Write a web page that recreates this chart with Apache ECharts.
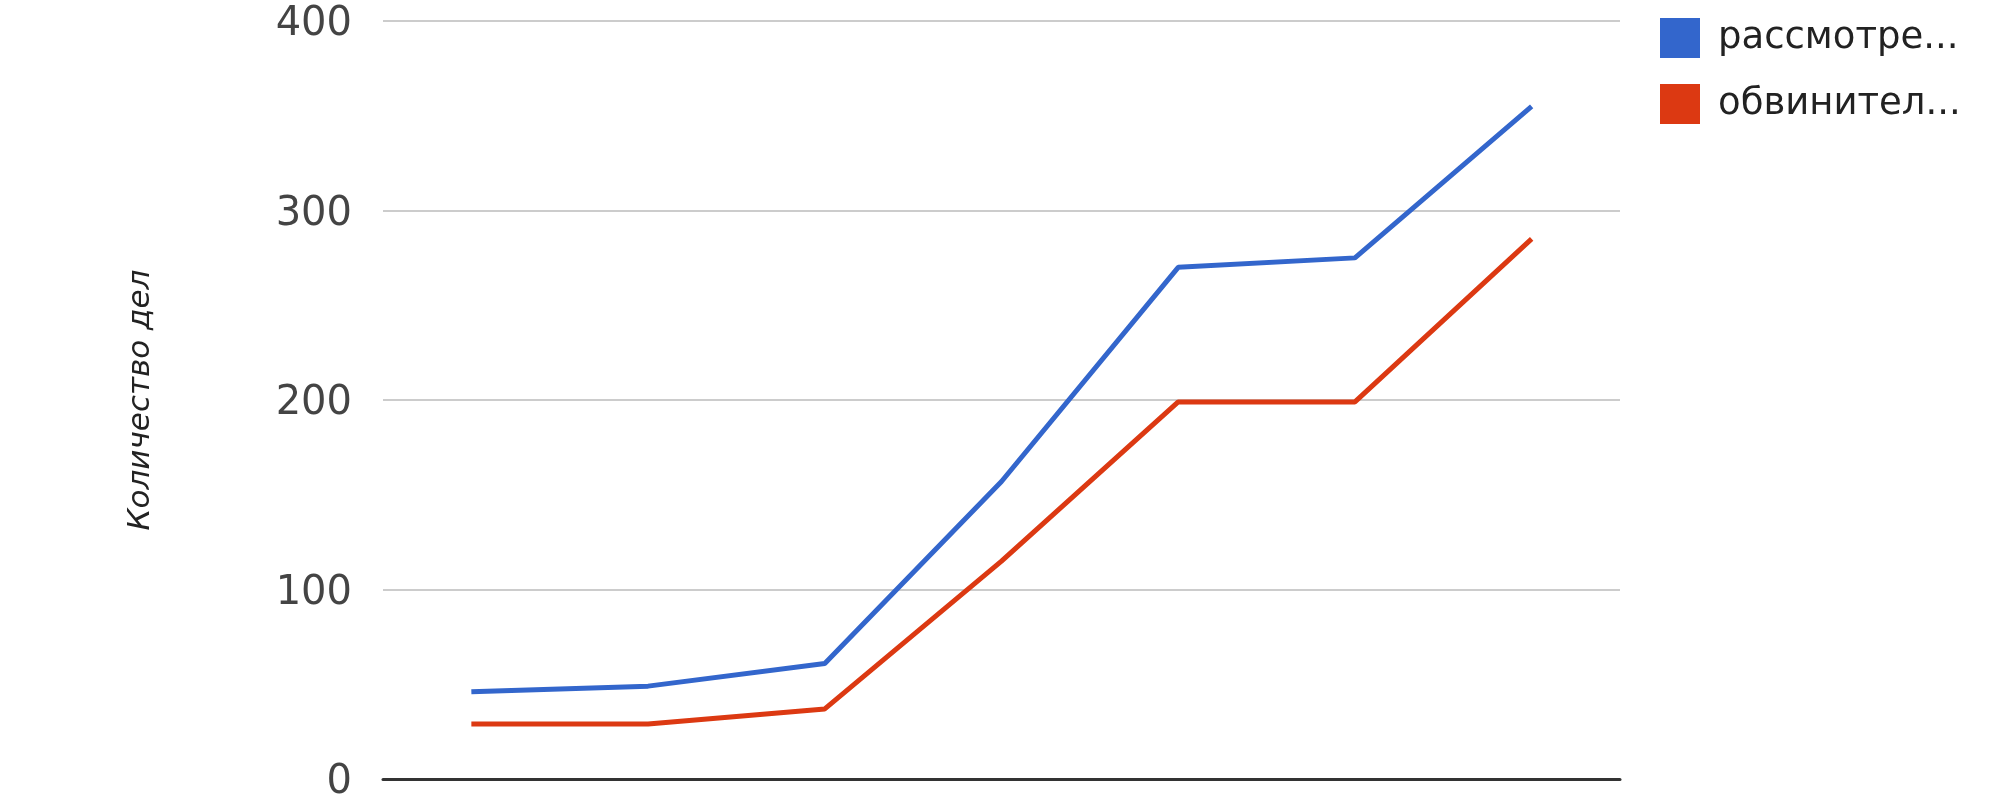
<!DOCTYPE html>
<html>
<head>
<meta charset="utf-8">
<script src="https://cdn.jsdelivr.net/npm/echarts@6/dist/echarts.min.js"></script>
<style>html,body{margin:0;padding:0;background:#fff}#c{width:2000px;height:800px}</style>
</head>
<body>
<div id="c"></div>
<script>
const categories = ['1', '2', '3', '4', '5', '6', '7'];
const seriesNames = ['рассмотре...', 'обвинител...'];
const considered = [46, 49, 61, 157, 270, 275, 355];
const convictions = [29, 29, 37, 115, 199, 199, 285];
const yTicks = [0, 100, 200, 300, 400];
const yTitle = 'Количество дел';

const chart = echarts.init(document.getElementById('c'), null, {renderer: 'canvas'});
chart.setOption({
  animation: false,
  backgroundColor: '#ffffff',
  textStyle: {fontFamily: 'DejaVu Sans'},
  grid: {left: 383, right: 380, top: 21, bottom: 21, containLabel: false, outerBoundsMode: 'none'},
  legend: {
    left: 1660, top: 18, orient: 'vertical', padding: 0,
    itemWidth: 40, itemHeight: 40, itemGap: 26,
    icon: 'rect',
    textStyle: {fontSize: 37, color: '#222222', fontFamily: 'DejaVu Sans', padding: [0, 0, 0, 13]},
    data: seriesNames
  },
  xAxis: {
    type: 'category', data: categories, boundaryGap: true,
    axisLine: {show: true, lineStyle: {color: '#333333', width: 3}},
    axisTick: {show: false}, axisLabel: {show: false}, splitLine: {show: false}
  },
  yAxis: {
    type: 'value', min: yTicks[0], max: yTicks[yTicks.length - 1], interval: 100,
    name: yTitle, nameLocation: 'middle', nameGap: 227, nameRotate: 90,
    nameTextStyle: {fontSize: 31, fontStyle: 'italic', color: '#222222', fontFamily: 'DejaVu Sans'},
    axisLine: {show: false}, axisTick: {show: false},
    axisLabel: {fontSize: 40, color: '#444444', margin: 31, fontFamily: 'DejaVu Sans',
                verticalAlign: 'top', lineHeight: 8},
    splitLine: {show: true, lineStyle: {color: '#cccccc', width: 2}}
  },
  series: [
    {name: seriesNames[0], type: 'line', data: considered, showSymbol: false, symbol: 'none',
     itemStyle: {color: '#3366cc'}, lineStyle: {color: '#3366cc', width: 5}},
    {name: seriesNames[1], type: 'line', data: convictions, showSymbol: false, symbol: 'none',
     itemStyle: {color: '#dc3912'}, lineStyle: {color: '#dc3912', width: 5}}
  ]
});
</script>
</body>
</html>
